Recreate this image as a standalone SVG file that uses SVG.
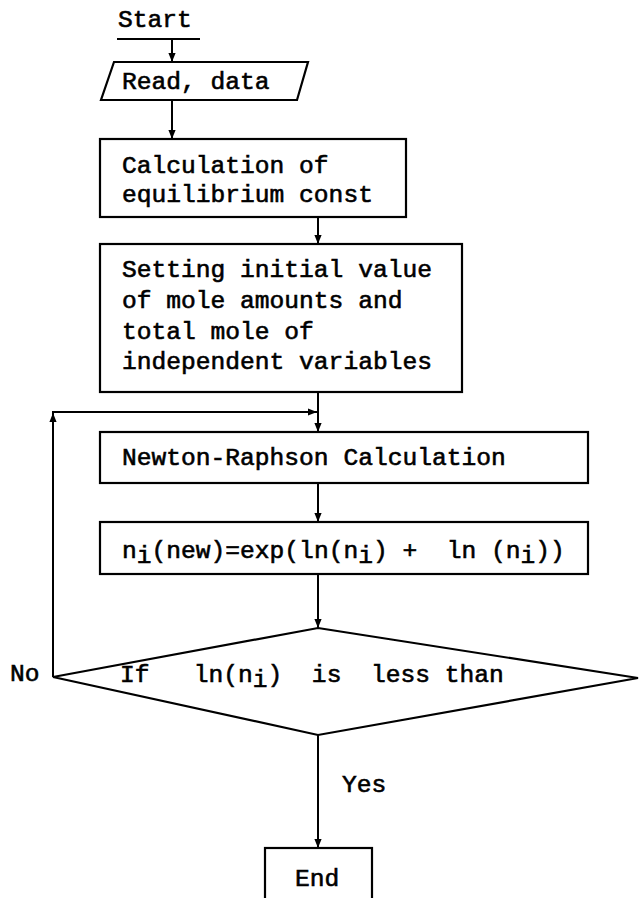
<svg xmlns="http://www.w3.org/2000/svg" width="640" height="898" viewBox="0 0 640 898">
<defs>
<style>
.shape{fill:#fff;stroke:#000;stroke-width:2.2}
.line{fill:none;stroke:#000;stroke-width:2}
.t{font-family:"Liberation Mono","DejaVu Sans Mono",monospace;font-size:24.6px;fill:#000;stroke:#000;stroke-width:0.6}
</style>
<marker id="arr" viewBox="0 0 10 10" refX="10" refY="5" markerWidth="9" markerHeight="9" markerUnits="userSpaceOnUse" orient="auto">
<path d="M0,1 L10,5 L0,9 Z" fill="#000"/>
</marker>
</defs>
<rect width="640" height="898" fill="#fff"/>
<g id="connectors">
<line class="line" x1="172" y1="39" x2="172" y2="62" marker-end="url(#arr)"/>
<line class="line" x1="172" y1="100" x2="172" y2="139" marker-end="url(#arr)"/>
<line class="line" x1="318" y1="217" x2="318" y2="244" marker-end="url(#arr)"/>
<line class="line" x1="318" y1="392" x2="318" y2="432" marker-end="url(#arr)"/>
<line class="line" x1="318" y1="483" x2="318" y2="522" marker-end="url(#arr)"/>
<line class="line" x1="318" y1="574" x2="318" y2="628" marker-end="url(#arr)"/>
<line class="line" x1="318" y1="735" x2="318" y2="848" marker-end="url(#arr)"/>
<line class="line" x1="53" y1="677" x2="53" y2="413" marker-end="url(#arr)"/>
<line class="line" x1="52" y1="412" x2="317" y2="412" marker-end="url(#arr)"/>
<text class="t" x="10" y="681">No</text>
<text class="t" x="342" y="792">Yes</text>
</g>
<g id="start">
<text class="t" x="118" y="27">Start</text>
<line class="line" x1="117" y1="39" x2="200" y2="39"/>
</g>
<g id="read">
<polygon class="shape" points="114,62 308,62 297,100 101,100"/>
<text class="t" x="122" y="89">Read, data</text>
</g>
<g id="calc">
<rect class="shape" x="100" y="139" width="306" height="78"/>
<text class="t" x="122" y="173">Calculation of</text>
<text class="t" x="122" y="202">equilibrium const</text>
</g>
<g id="init">
<rect class="shape" x="100" y="244" width="362" height="148"/>
<text class="t" x="122" y="277">Setting initial value</text>
<text class="t" x="122" y="308">of mole amounts and</text>
<text class="t" x="122" y="339">total mole of</text>
<text class="t" x="122" y="369">independent variables</text>
</g>
<g id="newton">
<rect class="shape" x="100" y="432" width="488" height="51"/>
<text class="t" x="122" y="465">Newton-Raphson Calculation</text>
</g>
<g id="update">
<rect class="shape" x="100" y="522" width="488" height="52"/>
<text class="t" x="122" y="558" xml:space="preserve">n<tspan dy="5">i</tspan><tspan dy="-5">(new)=exp(ln(n</tspan><tspan dy="5">i</tspan><tspan dy="-5">) +  ln (n</tspan><tspan dy="5">i</tspan><tspan dy="-5">))</tspan></text>
</g>
<g id="decision">
<polygon class="shape" points="318,628 638,678 318,735 53,677"/>
<text class="t" x="120" y="682" xml:space="preserve">If   ln(n<tspan dy="5">i</tspan><tspan dy="-5">)  is  less than</tspan></text>
</g>
<g id="end">
<rect class="shape" x="265" y="848" width="107" height="60"/>
<text class="t" x="295" y="886">End</text>
</g>
</svg>
